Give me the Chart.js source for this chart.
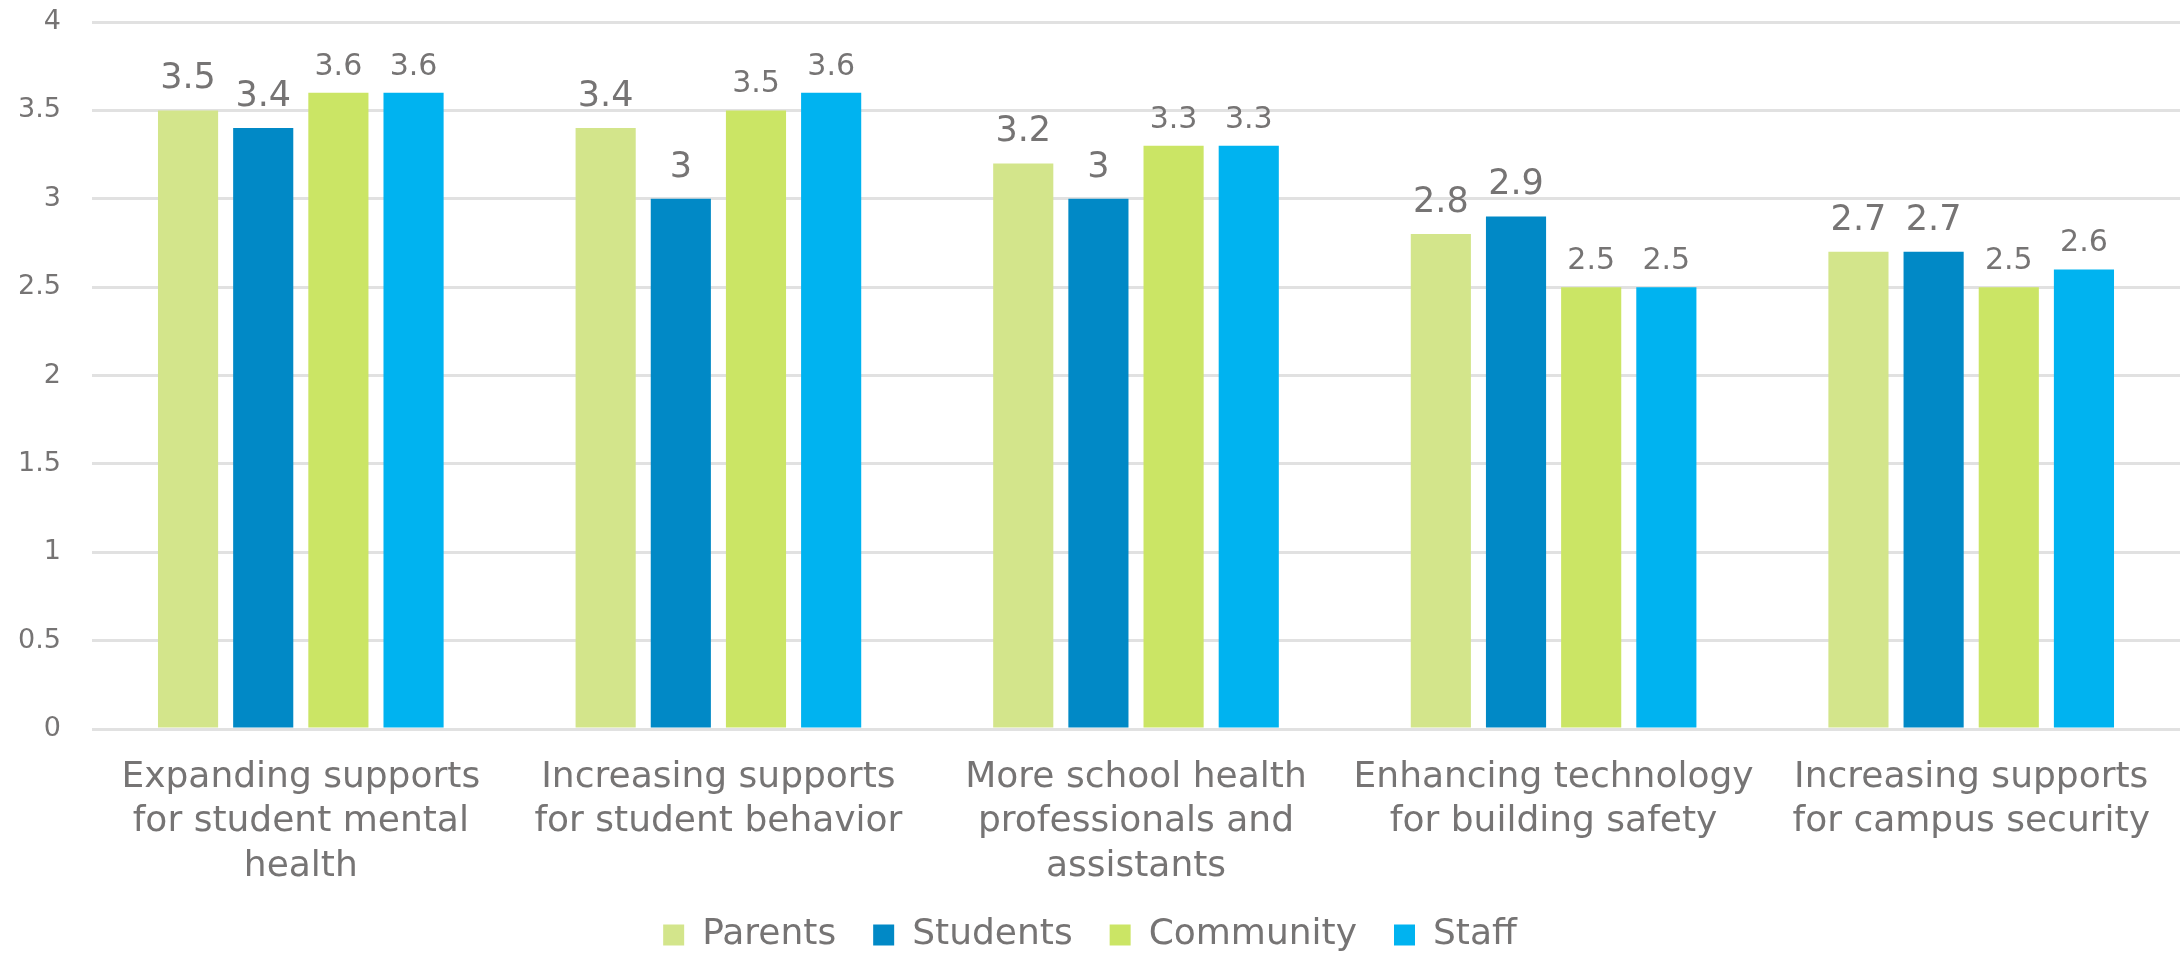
<!DOCTYPE html>
<html>
<head>
<meta charset="utf-8">
<script src="https://cdn.jsdelivr.net/npm/chart.js@4.4.1/dist/chart.umd.min.js"></script>
<style>
  html, body { margin: 0; padding: 0; background: #fff; }
  #wrap { width: 2182px; height: 956px; position: relative; }
</style>
</head>
<body>
<div id="wrap"><canvas id="chart"></canvas></div>
<script>
// ---- data ----
const categories = [
    ["Expanding supports", "for student mental", "health"],
    ["Increasing supports", "for student behavior"],
    ["More school health", "professionals and", "assistants"],
    ["Enhancing technology", "for building safety"],
    ["Increasing supports", "for campus security"]
];
const seriesNames = ["Parents", "Students", "Community", "Staff"];
const parents   = [3.5, 3.4, 3.2, 2.8, 2.7];
const students  = [3.4, 3.0, 3.0, 2.9, 2.7];
const community = [3.6, 3.5, 3.3, 2.5, 2.5];
const staff     = [3.6, 3.6, 3.3, 2.5, 2.6];
const yTicks = [0, 0.5, 1, 1.5, 2, 2.5, 3, 3.5, 4];

const colors = ["#d3e58b", "#0189c6", "#cbe565", "#00b3f0"];
// value label font size / gap above the bar, per series
const labelSizes = [35, 35, 30, 30];
const labelGaps = [22, 22, 18, 18];
const textColor = "#767474";
const fontFamily = "'DejaVu Sans', sans-serif";

// ---- value labels on top of bars ----
const valueLabels = {
    id: "valueLabels",
    afterDatasetsDraw(chart){
        const ctx = chart.ctx;
        ctx.save();
        ctx.fillStyle = textColor;
        ctx.textAlign = "center";
        ctx.textBaseline = "alphabetic";
        chart.data.datasets.forEach((ds, i)=>{
            const meta = chart.getDatasetMeta(i);
            ctx.font = labelSizes[i] + "px " + fontFamily;
            meta.data.forEach((bar, j)=>{
                ctx.fillText(String(ds.data[j]), bar.x, bar.y - labelGaps[i]);
            });
        });
        ctx.restore();
    }
};

const allSeries = [parents, students, community, staff];

new Chart(document.getElementById("chart"), {
    type: "bar",
    data: {
        labels: categories,
        datasets: allSeries.map((vals, i)=>({
            label: seriesNames[i],
            data: vals,
            backgroundColor: colors[i],
            categoryPercentage: 0.72,
            barPercentage: 0.8
        }))
    },
    options: {
        responsive: true,
        maintainAspectRatio: false,
        animation: false,
        layout: { padding: { top: 22, right: 2, left: 0, bottom: -7 } },
        plugins: {
            tooltip: { enabled: false },
            legend: {
                position: "bottom",
                labels: {
                    color: textColor,
                    font: { family: fontFamily, size: 36 },
                    boxWidth: 21,
                    boxHeight: 21,
                    padding: 37
                }
            }
        },
        scales: {
            x: {
                grid: { display: false, drawTicks: false },
                border: { display: false },
                ticks: {
                    color: textColor,
                    font: { family: fontFamily, size: 36, lineHeight: 1.236 },
                    maxRotation: 0,
                    autoSkip: false,
                    padding: 26
                },
                afterFit(axis){
                    // space between plot bottom and legend
                    axis.height = 151;
                }
            },
            y: {
                min: 0,
                max: 4,
                afterBuildTicks(axis){
                    axis.ticks = yTicks.map(v=>({value: v}));
                },
                afterFit(axis){
                    axis.width = 92;
                    axis.paddingTop = 0;
                    axis.paddingBottom = 0;
                },
                grid: { color: "#e1e1e1", lineWidth: 3, drawTicks: false },
                border: { display: false },
                ticks: {
                    color: textColor,
                    font: { family: fontFamily, size: 27 },
                    padding: 31,
                    callback: v => String(v)
                }
            }
        }
    },
    plugins: [valueLabels]
});
</script>
</body>
</html>
